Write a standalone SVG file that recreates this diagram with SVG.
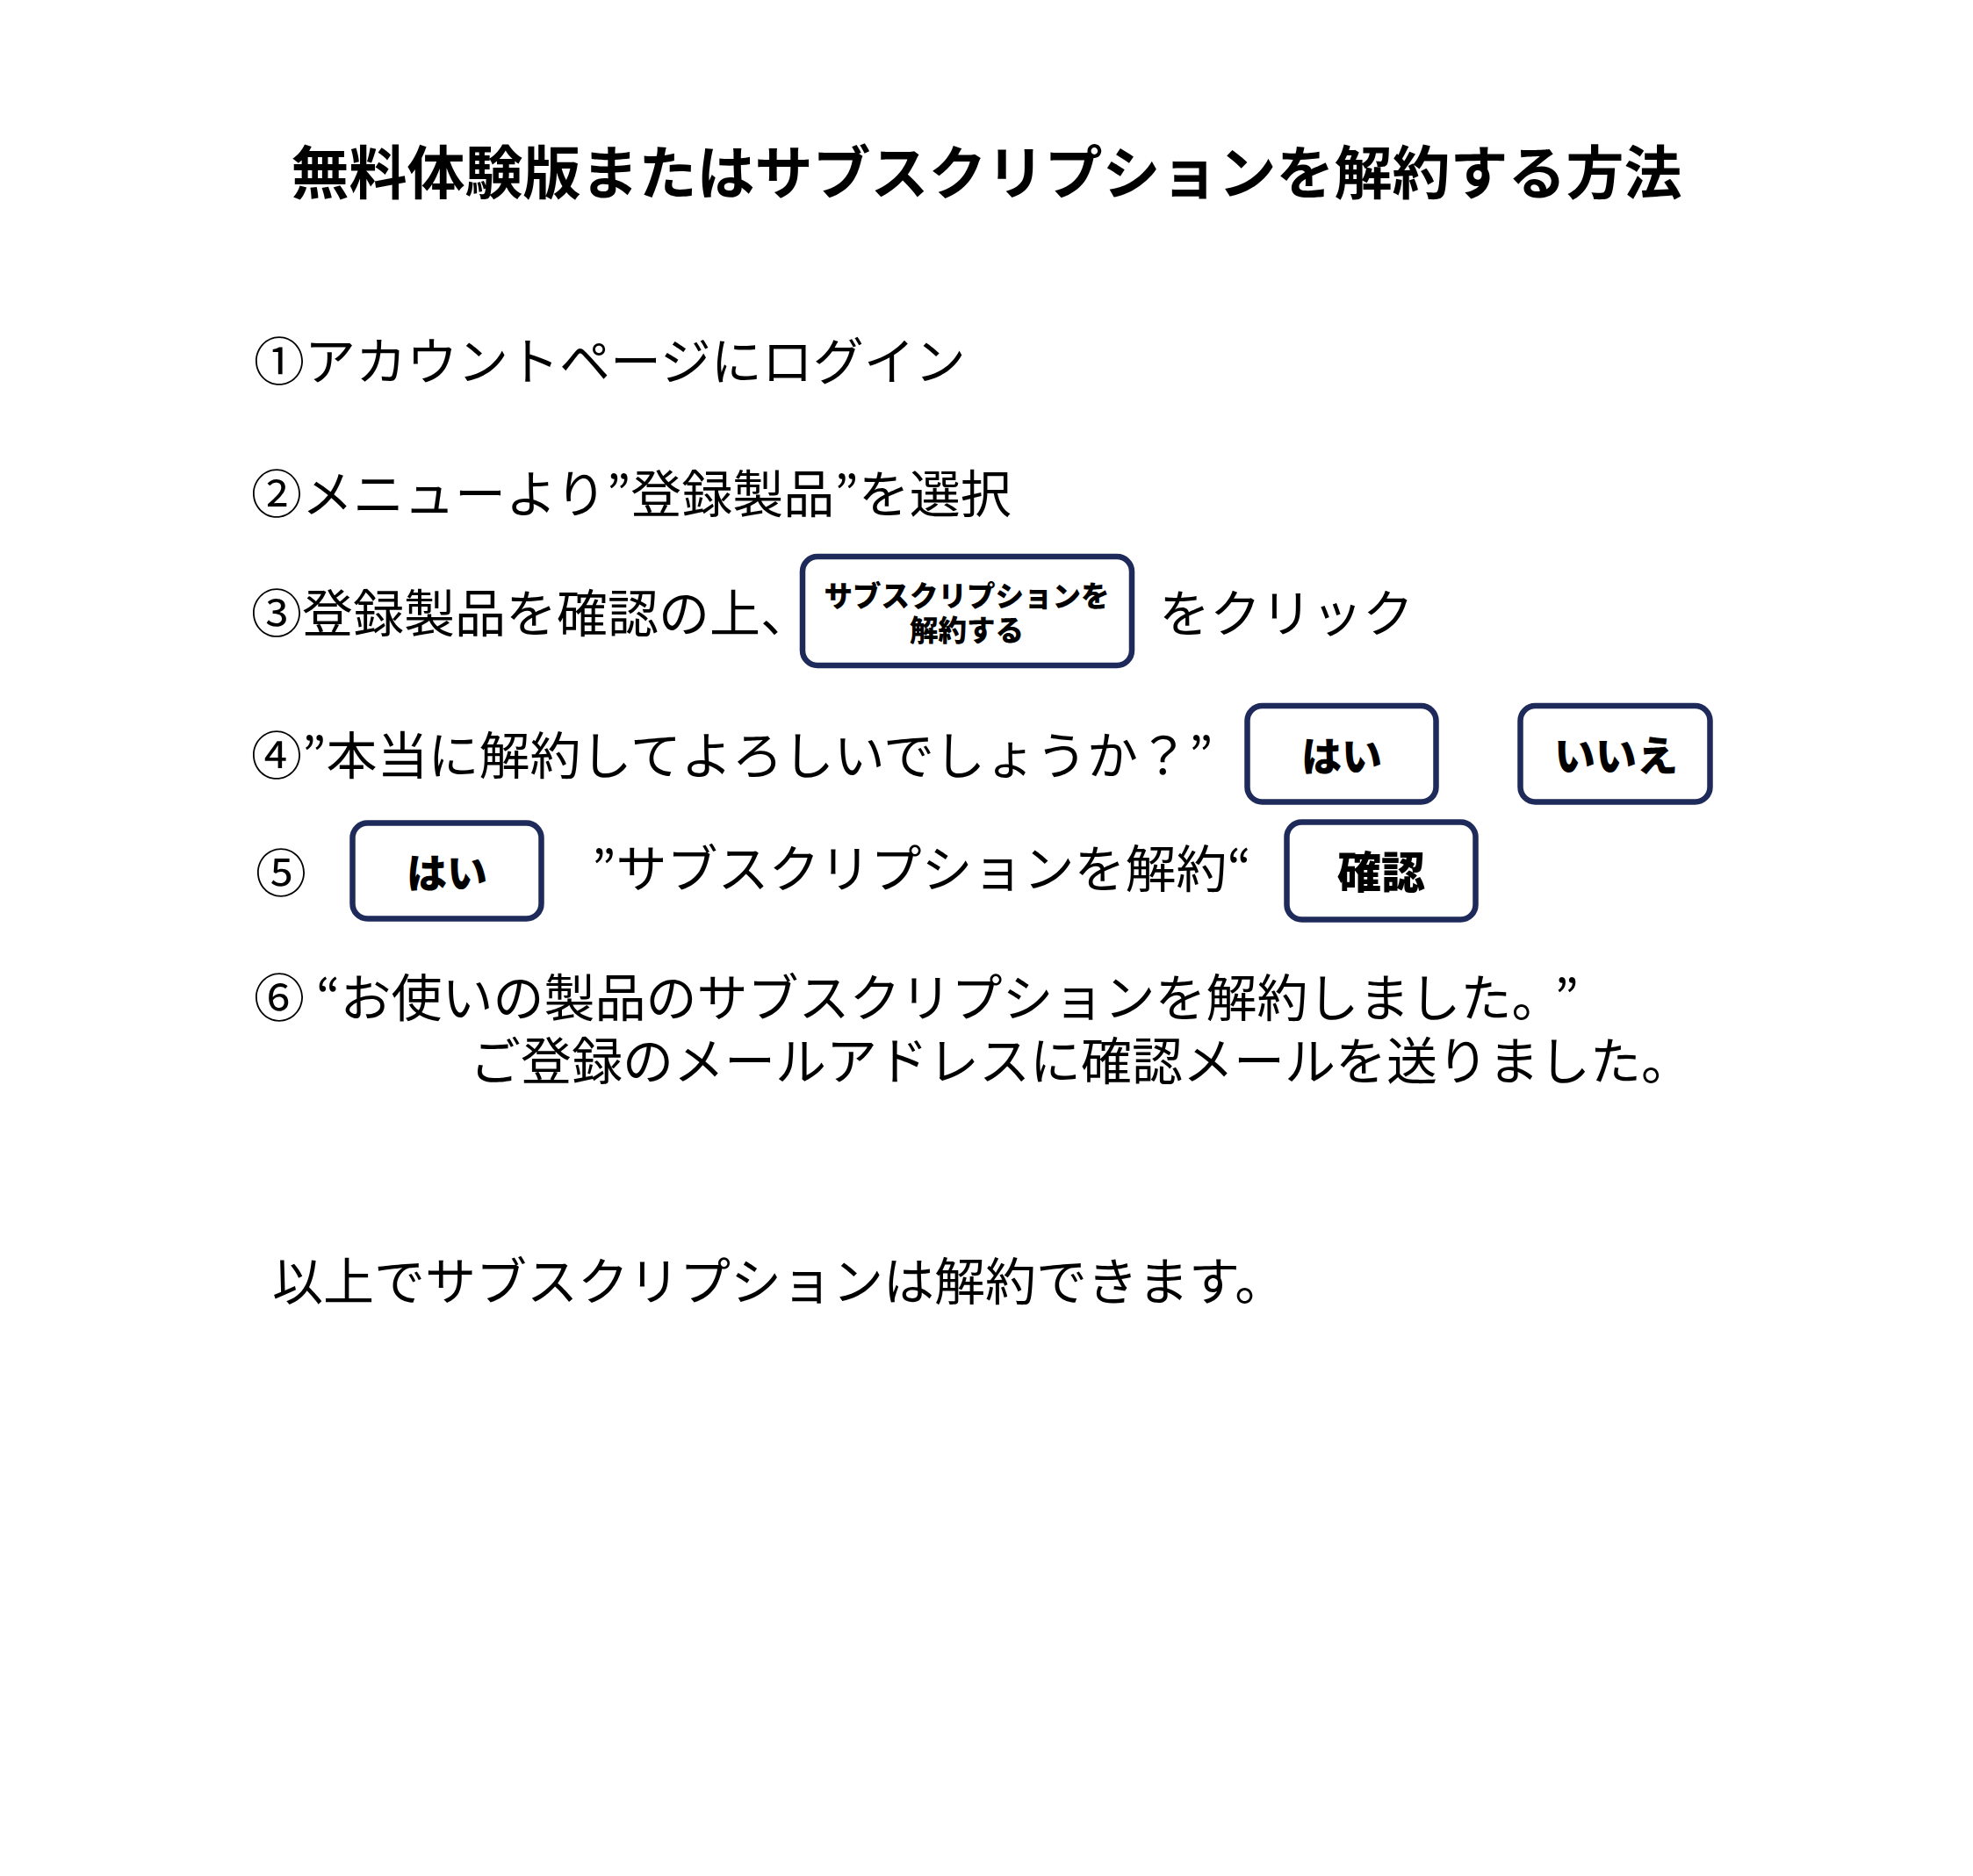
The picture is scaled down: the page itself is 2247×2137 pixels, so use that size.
<svg xmlns="http://www.w3.org/2000/svg" width="2247" height="2137" viewBox="0 0 2247 2137">
<style>
text{font-family:"Noto Sans CJK JP","Noto Sans CJK SC",sans-serif;fill:#000}
.title{font-size:66px;font-weight:700}
.body{font-size:58px;font-weight:400}
.btn{fill:#fff;stroke:#1E2A5A;stroke-width:6.5}
.bt{font-weight:900;text-anchor:middle}
</style>
<rect width="2247" height="2137" fill="#fff"/>
<g id="title"><text class="title" x="1123.5" y="221" text-anchor="middle">無料体験版またはサブスクリプションを解約する方法</text></g>
<g id="step1"><text class="body" x="289" y="433">①アカウントページにログイン</text></g>
<g id="step2"><text class="body" x="286" y="584">②メニューより”登録製品”を選択</text></g>
<g id="step3">
<text class="body" x="286" y="720">③登録製品を確認の上、</text>
<text class="body" x="1320" y="720">をクリック</text>
</g>
<g id="btn-cancel">
<rect class="btn" x="914" y="634" width="375" height="124" rx="17"/>
<text class="bt" x="1101" y="691" font-size="32.5">サブスクリプションを</text>
<text class="bt" x="1101" y="730" font-size="32.5">解約する</text>
</g>
<g id="step4"><text class="body" x="286" y="882">④”本当に解約してよろしいでしょうか？”</text></g>
<g id="btn-yes1">
<rect class="btn" x="1420.5" y="804" width="215" height="109.5" rx="17"/>
<text class="bt" x="1528" y="878" font-size="46">はい</text>
</g>
<g id="btn-no">
<rect class="btn" x="1731.5" y="804" width="216" height="109.5" rx="17"/>
<text class="bt" x="1840.5" y="878" font-size="47">いいえ</text>
</g>
<g id="step5">
<text class="body" x="291" y="1016">⑤</text>
<text class="body" x="674" y="1011">”サブスクリプションを解約“</text>
</g>
<g id="btn-yes2">
<rect class="btn" x="401.5" y="937.5" width="215" height="109" rx="17"/>
<text class="bt" x="509" y="1011" font-size="46">はい</text>
</g>
<g id="btn-confirm">
<rect class="btn" x="1465.5" y="936.5" width="215" height="111" rx="17"/>
<text class="bt" x="1573" y="1012" font-size="50">確認</text>
</g>
<g id="step6">
<text class="body" x="289" y="1158">⑥ “お使いの製品のサブスクリプションを解約しました。<tspan dx="20">”</tspan></text>
<text class="body" x="535" y="1230">ご登録のメールアドレスに確認メールを送りました。</text>
</g>
<g id="footer"><text class="body" x="310" y="1481">以上でサブスクリプションは解約できます。</text></g>
<g id="connectors"/>
</svg>
